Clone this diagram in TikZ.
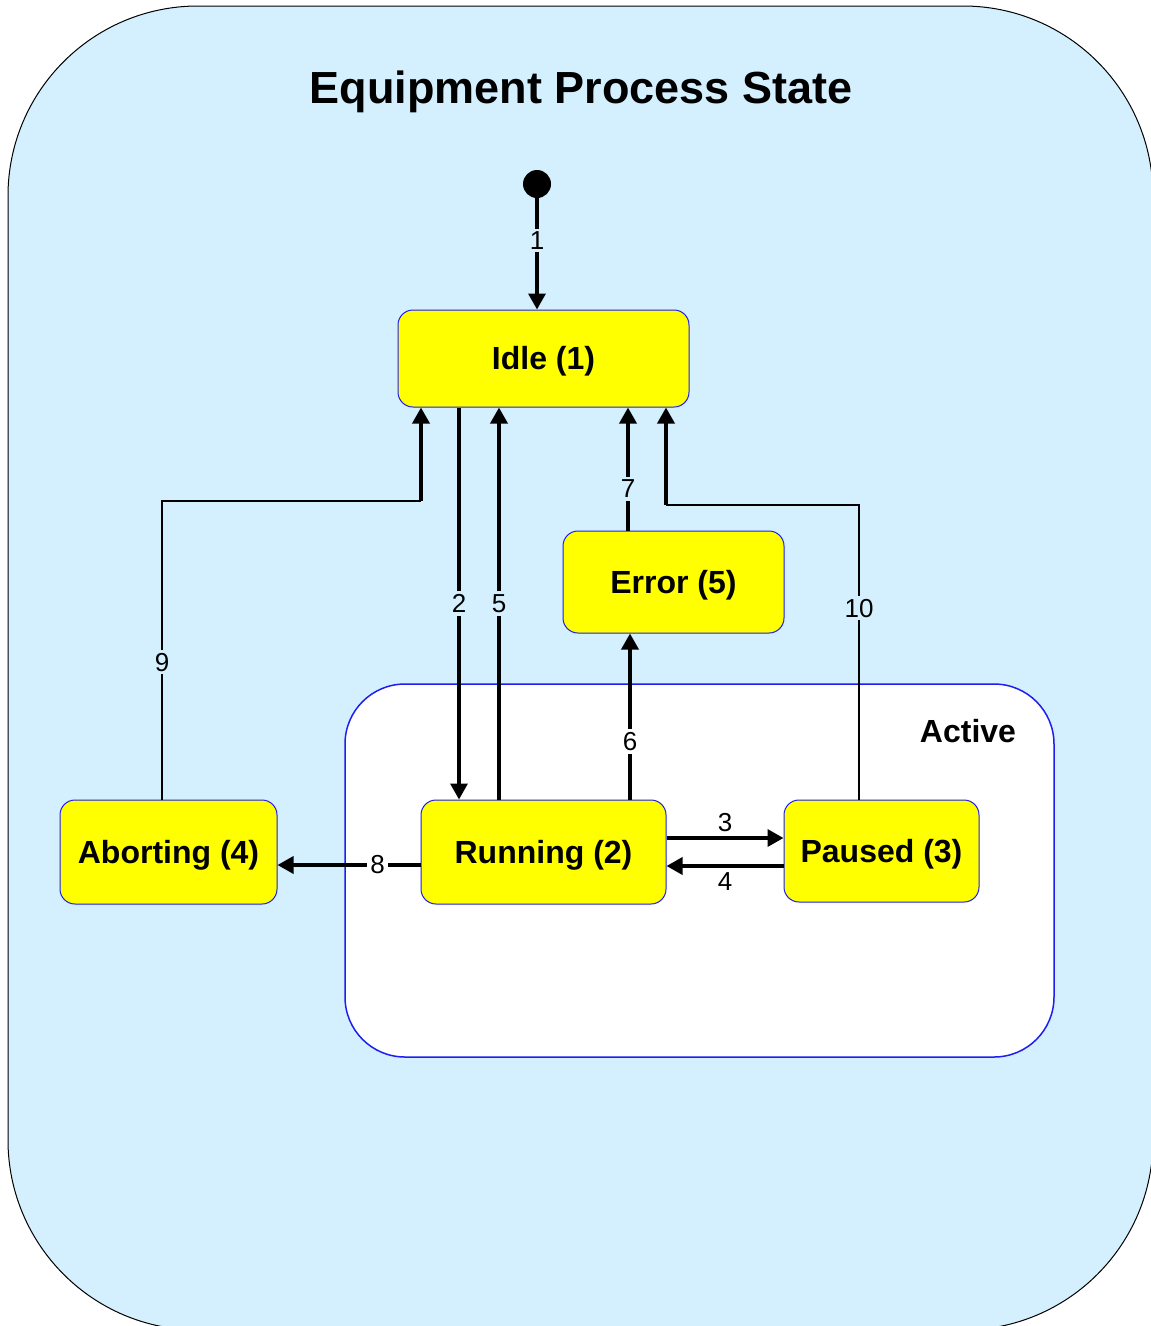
\documentclass[tikz,border=0pt]{standalone}
\usepackage{fontspec}
\setmainfont{Liberation Sans}
\usetikzlibrary{arrows.meta}
\definecolor{sky}{RGB}{212,240,254}
\definecolor{stateyellow}{RGB}{255,255,0}
\definecolor{stateblue}{RGB}{30,30,240}

\begin{document}
\begin{tikzpicture}[
      x=1pt, y=-1pt,
      state/.style={draw=stateblue, line width=1pt, fill=stateyellow,
        rounded corners=15pt, inner sep=0pt, text depth=1pt,
        font=\fontsize{32}{38}\selectfont\bfseries},
      arr/.style={line width=3.5pt, -{Triangle[length=16pt,width=17pt]}},
      thinline/.style={line width=1.6pt},
      lbl/.style={fill=sky, inner sep=3pt, font=\fontsize{26}{30}\selectfont},
      lblw/.style={lbl, fill=white},
      side/.style={inner sep=0pt, font=\fontsize{26}{30}\selectfont}
    ]
      \useasboundingbox (0,0) rectangle (1151,1326);
      % outer region
      \draw[fill=sky, line width=1pt, rounded corners=190pt] (8,6) rectangle (1153,1330);
      \node[font=\fontsize{45}{52}\selectfont\bfseries] (title) at (581,92) {Equipment Process State};
      % active region
      \draw[stateblue, line width=1.5pt, fill=white, rounded corners=60pt] (345,684) rectangle (1054,1057);
      \node[font=\fontsize{32}{38}\selectfont\bfseries] (active) at (968,731) {Active};
      % states
      \node[circle, fill=black, minimum size=28pt, inner sep=0pt] (init) at (537,184) {};
      \node[state, minimum width=291pt, minimum height=97pt] (idle) at (543.5,358.5) {Idle (1)};
      \node[state, minimum width=221pt, minimum height=102pt] (error) at (673.5,582) {Error (5)};
      \node[state, minimum width=217pt, minimum height=104pt] (abort) at (168.5,852) {Aborting (4)};
      \node[state, minimum width=245pt, minimum height=104pt] (run) at (543.5,852) {Running (2)};
      \node[state, minimum width=195pt, minimum height=102pt] (pause) at (881.5,851) {Paused (3)};
      % corners of the bent transitions
      \coordinate (c9) at (162,501);
      \coordinate (c9b) at (421,501);
      \coordinate (c10) at (859,505);
      \coordinate (c10b) at (666,505);
      % transitions
      \draw[arr] (init) -- node[lbl, pos=0.38] {1} (idle.north -| init);
      \draw[arr] ([xshift=-84.5pt]idle.south) -- node[lbl] {2} ([xshift=-84.5pt]idle.south |- run.north);
      \draw[arr] ([xshift=-44.5pt]run.north) -- node[lbl] {5} ([xshift=-44.5pt]run.north |- idle.south);
      \draw[arr] ([xshift=86.5pt]run.north) -- node[lblw, pos=0.35] {6} ([xshift=86.5pt]run.north |- error.south);
      \draw[arr] ([xshift=-45.5pt]error.north) -- node[lbl, pos=0.34] {7} ([xshift=-45.5pt]error.north |- idle.south);
      \draw[arr] ([yshift=-13pt]run.west) -- node[lblw, pos=0.3] {8} ([yshift=-13pt]abort.east);
      \draw[arr] ([yshift=14pt]run.east) -- node[side, above=5pt] {3} ([yshift=13pt]pause.west);
      \draw[arr] ([yshift=-15pt]pause.west) -- node[side, below=5pt] {4} ([yshift=-14pt]run.east);
      \draw[thinline] (abort.north -| c9) -- node[lbl, pos=0.46] {9} (c9) -- (c9b);
      \draw[arr] (c9b) -- (c9b |- idle.south);
      \draw[thinline] (pause.north -| c10) -- node[lbl, pos=0.65] {10} (c10) -- (c10b);
      \draw[arr] (c10b) -- (c10b |- idle.south);
    \end{tikzpicture}
\end{document}
